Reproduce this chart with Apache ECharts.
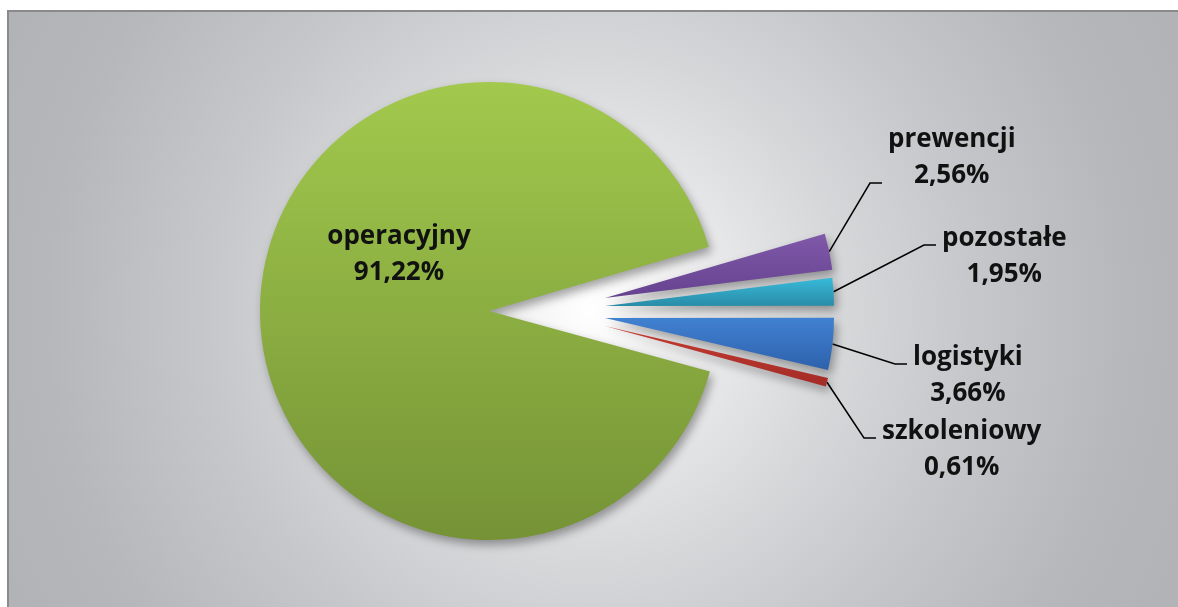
<!DOCTYPE html>
<html>
<head>
<meta charset="utf-8">
<style>
html,body{margin:0;padding:0;background:#ffffff;}
#chart{width:1178px;height:607px;}
</style>
<script src="https://cdn.jsdelivr.net/npm/echarts@6/dist/echarts.min.js"></script>
</head>
<body>
<div id="chart"></div>
<script>
// ---- data ----
const categories = ['prewencji', 'pozostałe', 'logistyki', 'szkoleniowy', 'operacyjny'];
const shares = [2.56, 1.95, 3.66, 0.61, 91.22];

// ---- layout / style (not data) ----
const pieCenter = [489, 311];
const pieRadius = 229;
const startAngle = 16.3;
const sliceShift = [[116, -13], [116, -5], [116, 7], [116, 15], [0, 0]];
const labelAnchor = [[882, 183], [936, 245], [907, 364], [876, 438], [399, 255]];
// [top, bottom] padding of each label box: decides where the leader line meets it
const labelPadTB = [[0, 50], [24, 0], [24, 0], [24, 0], [0, 0]];
const sliceColors = [
  ['#8059a9', '#654290'],
  ['#38bada', '#298ca7'],
  ['#4181d1', '#2d61ac'],
  ['#c63b31', '#a32c27'],
  ['#a2c94d', '#759336']
];

function fmt(v) { return v.toFixed(2).replace('.', ',') + '%'; }

const chart = echarts.init(document.getElementById('chart'), null, { renderer: 'canvas' });

const tok = {
  fontFamily: 'Open Sans', fontWeight: 'bold', fontSize: 26, lineHeight: 36,
  color: '#111111', align: 'center', textBorderWidth: 0
};

const lastIdx = categories.length - 1;

const series = categories.map(function (cat, i) {
  const isMain = i === lastIdx;
  return {
    type: 'pie',
    silent: true,
    animation: false,
    avoidLabelOverlap: false,
    selectedMode: false,
    center: [pieCenter[0] + sliceShift[i][0], pieCenter[1] + sliceShift[i][1]],
    radius: pieRadius,
    startAngle: startAngle,
    clockwise: true,
    z: isMain ? 2 : 3,
    labelLayout: function (p) {
      if (p.dataIndex === i) {
        return { x: labelAnchor[i][0], y: labelAnchor[i][1] };
      }
      return {};
    },
    data: categories.map(function (name, j) {
      const vis = j === i;
      return {
        name: name,
        value: shares[j],
        itemStyle: vis ? {
          color: {
            type: 'linear', x: 0, y: 0, x2: 0, y2: 1,
            colorStops: [
              { offset: 0, color: sliceColors[j][0] },
              { offset: 1, color: sliceColors[j][1] }
            ]
          },
          borderWidth: 0,
          shadowBlur: 10,
          shadowOffsetX: 3,
          shadowOffsetY: 5,
          shadowColor: 'rgba(0,0,0,0.35)'
        } : { color: 'rgba(0,0,0,0)', borderWidth: 0 },
        label: {
          show: vis,
          position: isMain ? 'inside' : 'outside',
          color: '#111111',
          textBorderWidth: 0,
          formatter: '{n|' + name + '}\n{v|' + fmt(shares[j]) + '}',
          rich: { n: tok, v: tok },
          backgroundColor: 'rgba(0,0,0,0)',
          padding: [labelPadTB[j][0], 0, labelPadTB[j][1], isMain ? 0 : 6]
        },
        labelLine: {
          show: vis && !isMain,
          length: 15,
          length2: 12,
          smooth: false,
          lineStyle: { color: '#000000', width: 1.5 }
        }
      };
    })
  };
});

chart.setOption({
  animation: false,
  backgroundColor: '#ffffff',
  graphic: [{
    type: 'rect',
    z: -100,
    silent: true,
    shape: { x: 8, y: 11, width: 1300, height: 700 },
    style: {
      fill: {
        type: 'radial', x: 590, y: 310, r: 640, global: true,
        colorStops: [
          { offset: 0, color: '#ffffff' },
          { offset: 0.12, color: '#f1f1f2' },
          { offset: 0.4, color: '#d6d7d9' },
          { offset: 0.6, color: '#c6c7ca' },
          { offset: 0.85, color: '#b6b7bb' },
          { offset: 1, color: '#b2b3b7' }
        ]
      },
      stroke: '#8a8a8a',
      lineWidth: 2
    }
  }],
  series: series
});
</script>
</body>
</html>
